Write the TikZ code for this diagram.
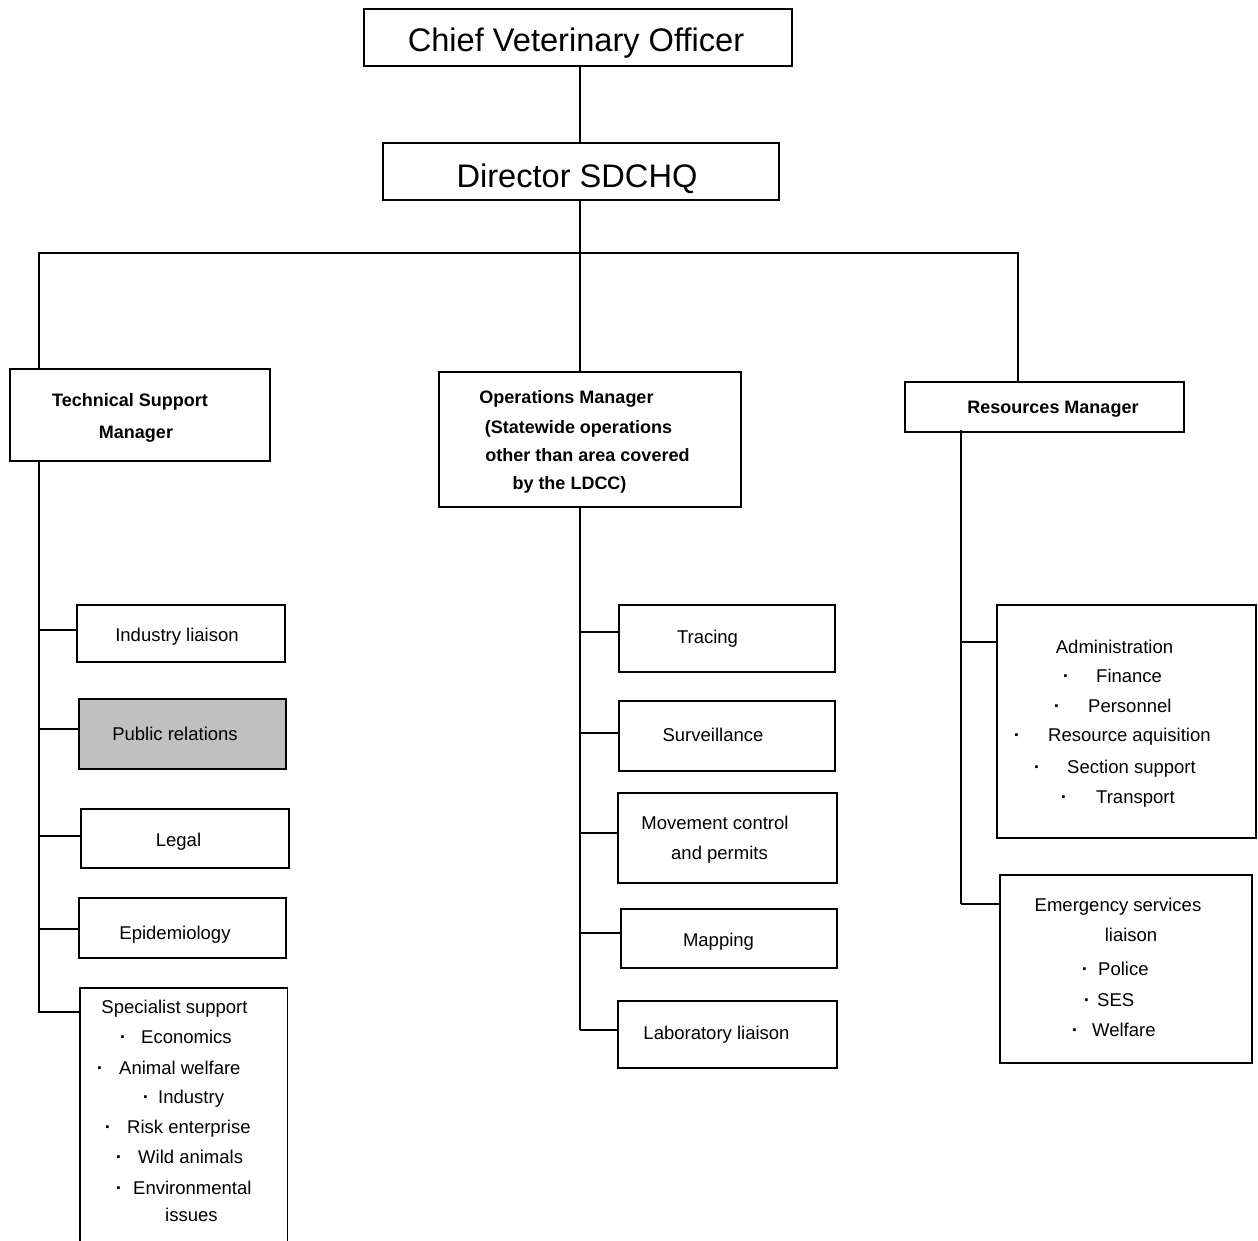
\documentclass[tikz,border=0pt]{standalone}
\usepackage{fontspec}
\setmainfont{Liberation Sans}
\usetikzlibrary{calc}
\definecolor{prgray}{HTML}{C0C0C0}
\begin{document}
\begin{tikzpicture}[x=1pt,y=-1pt,
  box/.style={draw, line width=1.4pt, inner sep=0pt},
  conn/.style={line width=1.4pt},
  txt/.style={font=\fontsize{18.5}{22}\selectfont, inner sep=0pt, text height=13pt, text depth=4pt, yshift=-2pt},
  btxt/.style={font=\bfseries\fontsize{18}{22}\selectfont, inner sep=0pt, text height=13pt, text depth=4pt, yshift=-2pt},
  big/.style={font=\fontsize{32.6}{38}\selectfont, inner sep=0pt, text height=23pt, text depth=7pt, yshift=-2pt},
  bul/.style={txt, anchor=center, font=\bfseries\fontsize{19}{22}\selectfont},
  item/.style={txt, anchor=west}]
\useasboundingbox[fill=white] (0,0) rectangle (1258,1241);

% ---- boxes ----
\node[box, minimum width=428pt, minimum height=57pt] (cvo) at (578,37.5) {};
\node[box, minimum width=396pt, minimum height=57pt] (dir) at (581,171.5) {};
\node[box, minimum width=260pt, minimum height=92pt] (tsm) at (140,415) {};
\node[box, minimum width=302pt, minimum height=135pt] (ops) at (590,439.5) {};
\node[box, minimum width=279pt, minimum height=50pt] (res) at (1044.5,407) {};

\node[box, minimum width=208pt, minimum height=57pt] (ind) at (181,633.5) {};
\node[box, fill=prgray, minimum width=207pt, minimum height=70pt] (pr) at (182.5,734) {};
\node[box, minimum width=208pt, minimum height=59pt] (legal) at (185,838.5) {};
\node[box, minimum width=207pt, minimum height=60pt] (epi) at (182.5,928) {};
\node[inner sep=0pt, minimum width=207pt, minimum height=253pt] (spec) at (183.5,1114.5) {};
\draw[line width=1.4pt] (spec.south west) -- (spec.north west) -- (spec.north east) -- (spec.south east);

\node[box, minimum width=216pt, minimum height=67pt] (trac) at (727,638.5) {};
\node[box, minimum width=216pt, minimum height=70pt] (surv) at (727,736) {};
\node[box, minimum width=219pt, minimum height=90pt] (move) at (727.5,838) {};
\node[box, minimum width=216pt, minimum height=59pt] (map) at (729,938.5) {};
\node[box, minimum width=219pt, minimum height=67pt] (lab) at (727.5,1034.5) {};

\node[box, minimum width=259pt, minimum height=233pt] (admin) at (1126.5,721.5) {};
\node[box, minimum width=252pt, minimum height=188pt] (emerg) at (1126,969) {};

% ---- connectors ----
\coordinate (barL) at (39,253);
\coordinate (barR) at (1018,253);
\coordinate (lend) at (39,1013);
\coordinate (mend) at (580,1030);
\coordinate (rtop) at (961,430);
\coordinate (rend) at (961,904);
\coordinate (radm) at (961,642);

\draw[conn] (cvo.south -| 580,0) -- (dir.north -| 580,0);
\draw[conn] (dir.south -| 580,0) -- (barL -| 580,0);
\draw[conn] (tsm.north -| barL) -- (barL) -- (barR) -- (res.north -| barR);
\draw[conn] (barL -| 580,0) -- (ops.north -| 580,0);

\draw[conn] (tsm.south -| barL) -- (lend);
\draw[conn] (39,630) -- (39,630 -| ind.west);
\draw[conn] (39,729) -- (39,729 -| pr.west);
\draw[conn] (39,836) -- (39,836 -| legal.west);
\draw[conn] (39,929) -- (39,929 -| epi.west);
\draw[conn] (39,1012) -- (39,1012 -| spec.west);

\draw[conn] (ops.south -| mend) -- (mend);
\draw[conn] (580,632) -- (580,632 -| trac.west);
\draw[conn] (580,733) -- (580,733 -| surv.west);
\draw[conn] (580,833) -- (580,833 -| move.west);
\draw[conn] (580,933) -- (580,933 -| map.west);
\draw[conn] (mend) -- (mend -| lab.west);

\draw[conn] (rtop) -- (rend);
\draw[conn] (radm) -- (radm -| admin.west);
\draw[conn] (rend) -- (rend -| emerg.west);

% ---- texts ----
\node[big] (cvo-t) at (576,42) {Chief Veterinary Officer};
\node[big] (dir-t) at (577,178) {Director SDCHQ};

\node[btxt] (tsm-t1) at (130,400) {Technical Support};
\node[btxt] (tsm-t2) at (136,432) {Manager};

\node[btxt] (ops-t1) at (566.5,397) {Operations Manager};
\node[btxt] (ops-t2) at (578.5,427) {(Statewide operations};
\node[btxt] (ops-t3) at (587.5,455) {other than area covered};
\node[btxt] (ops-t4) at (569.5,483) {by the LDCC)};

\node[btxt] (res-t) at (1053,407) {Resources Manager};

\node[txt] (ind-t) at (177,635) {Industry liaison};
\node[txt] (pr-t) at (175,734) {Public relations};
\node[txt] (legal-t) at (178.5,840) {Legal};
\node[txt] (epi-t) at (175,933) {Epidemiology};

\node[txt] (spec-t) at (174.5,1007) {Specialist support};
\node[bul] (sb1) at (123,1037) {·};  \node[item] (si1) at (141,1037) {Economics};
\node[bul] (sb2) at (100,1068) {·};  \node[item] (si2) at (119,1068) {Animal welfare};
\node[bul] (sb3) at (146,1097) {·};  \node[item] (si3) at (158,1097) {Industry};
\node[bul] (sb4) at (108,1127) {·};  \node[item] (si4) at (127,1127) {Risk enterprise};
\node[bul] (sb5) at (119,1157) {·};  \node[item] (si5) at (138,1157) {Wild animals};
\node[bul] (sb6) at (119,1188) {·};  \node[item] (si6) at (133,1188) {Environmental};
\node[item] (si7) at (165,1215) {issues};

\node[txt] (trac-t) at (707.5,637) {Tracing};
\node[txt] (surv-t) at (713,735) {Surveillance};
\node[txt] (move-t1) at (715,823) {Movement control};
\node[txt] (move-t2) at (719.5,853) {and permits};
\node[txt] (map-t) at (718.5,940) {Mapping};
\node[txt] (lab-t) at (716.5,1033) {Laboratory liaison};

\node[txt] (adm-t) at (1114.5,647) {Administration};
\node[bul] (ab1) at (1066,676) {·};  \node[item] (ai1) at (1096,676) {Finance};
\node[bul] (ab2) at (1057,706) {·};  \node[item] (ai2) at (1088,706) {Personnel};
\node[bul] (ab3) at (1017,735) {·};  \node[item] (ai3) at (1048,735) {Resource aquisition};
\node[bul] (ab4) at (1037,767) {·};  \node[item] (ai4) at (1067,767) {Section support};
\node[bul] (ab5) at (1064,797) {·};  \node[item] (ai5) at (1096,797) {Transport};

\node[txt] (em-t1) at (1118,905) {Emergency services};
\node[txt] (em-t2) at (1131,935) {liaison};
\node[bul] (eb1) at (1085,969) {·};  \node[item] (ei1) at (1098,969) {Police};
\node[bul] (eb2) at (1087,1000) {·}; \node[item] (ei2) at (1097,1000) {SES};
\node[bul] (eb3) at (1075,1030) {·}; \node[item] (ei3) at (1092,1030) {Welfare};
\end{tikzpicture}
\end{document}
